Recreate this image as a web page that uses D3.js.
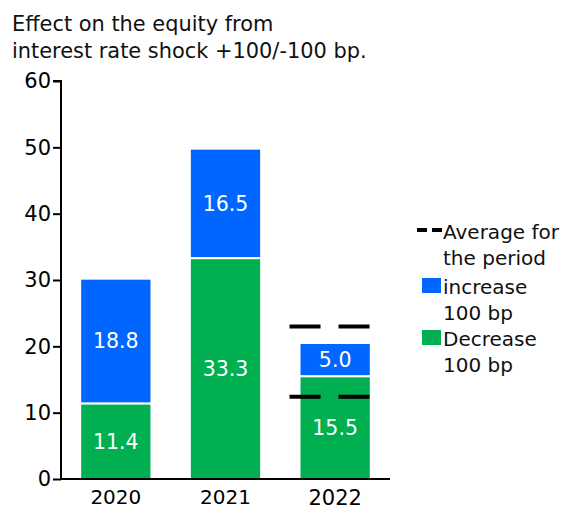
<!DOCTYPE html>
<html><head><meta charset="utf-8">
<script src="https://cdn.jsdelivr.net/npm/d3@7"></script>
<style>body{margin:0;background:#fff;} text{font-family:"DejaVu Sans",Verdana,sans-serif;}</style>
</head><body>
<svg id="c" width="566" height="509"></svg>
<script>
const years = ["2020","2021","2022"];
const decrease = [11.4, 33.3, 15.5];
const increase = [18.8, 16.5, 5.0];
const averages = [23.0, 12.4];
const avgYear = "2022";
const yTicks = [0,10,20,30,40,50,60];
const titleLines = ["Effect on the equity from","interest rate shock +100/-100 bp."];
const legendItems = [
  {type:"dash", lines:["Average for","the period"]},
  {type:"box", color:"#0066FF", lines:["increase","100 bp"]},
  {type:"box", color:"#00B050", lines:["Decrease","100 bp"]}
];
const BLUE="#0066FF", GREEN="#00B050";

const svg = d3.select("#c");
const y = d3.scaleLinear().domain([0,60]).range([479,81]);
const x = d3.scaleBand().domain(years).range([61,390]).paddingInner(0.35).paddingOuter(0.175);

// title
svg.append("text").attr("x",12).attr("y",31).attr("font-size",20.9).attr("fill","#111")
  .selectAll("tspan").data(titleLines).join("tspan").attr("x",12).attr("dy",(d,i)=>i?27:0).text(d=>d);

// bars
const g = svg.append("g");
years.forEach((yr,i)=>{
  const segs = [
    {v0:0, v1:decrease[i], c:GREEN, v:decrease[i]},
    {v0:decrease[i], v1:decrease[i]+increase[i], c:BLUE, v:increase[i]}
  ];
  segs.forEach(s=>{
    g.append("rect").attr("x",x(yr)).attr("width",x.bandwidth())
      .attr("y",y(s.v1)).attr("height",y(s.v0)-y(s.v1))
      .attr("fill",s.c).attr("stroke","#fff").attr("stroke-width",2);
    g.append("text").attr("x",x(yr)+x.bandwidth()/2).attr("y",(y(s.v0)+y(s.v1))/2)
      .attr("dy","0.36em").attr("text-anchor","middle").attr("fill","#fff")
      .attr("font-size",20.5).text(s.v.toFixed(1));
  });
});

// average dashes
averages.forEach(a=>{
  svg.append("line").attr("x1",x(avgYear)-10).attr("x2",x(avgYear)+x.bandwidth())
    .attr("y1",y(a)).attr("y2",y(a)).attr("stroke","#000").attr("stroke-width",4)
    .attr("stroke-dasharray","31,18");
});

// axes
const ya = svg.append("g").attr("transform","translate(61,0)")
  .call(d3.axisLeft(y).tickValues(yTicks).tickSize(8).tickPadding(2).tickFormat(d3.format("d")));
ya.select(".domain").attr("stroke","#000").attr("stroke-width",2).attr("d","M-8,"+y(60)+"H0V"+y(0));
ya.selectAll(".tick line").attr("stroke","#000").attr("stroke-width",2);
ya.selectAll(".tick text").attr("font-size",21).attr("fill","#000").attr("font-family","DejaVu Sans, Verdana, sans-serif");

const xa = svg.append("g").attr("transform","translate(0,479)")
  .call(d3.axisBottom(x).tickSize(0).tickPadding(11));
xa.select(".domain").attr("stroke","#000").attr("stroke-width",2).attr("d","M61,0H390");
xa.selectAll(".tick text").attr("font-size",d=>d==="2022"?21:20).attr("fill","#000")
  .attr("font-family","DejaVu Sans, Verdana, sans-serif");

// legend
const lg = svg.append("g");
const rowTops = [230, 285, 337];
legendItems.forEach((it,i)=>{
  const cy = rowTops[i];
  if(it.type==="dash"){
    lg.append("line").attr("x1",417).attr("x2",442).attr("y1",cy).attr("y2",cy)
      .attr("stroke","#000").attr("stroke-width",4).attr("stroke-dasharray","10,5");
  } else {
    lg.append("rect").attr("x",422).attr("y",cy-7).attr("width",19).attr("height",15).attr("fill",it.color);
  }
  lg.append("text").attr("x",443).attr("y",cy+9).attr("font-size",20).attr("fill","#111")
    .selectAll("tspan").data(it.lines).join("tspan").attr("x",443).attr("dy",(d,j)=>j?25.5:0).text(d=>d);
});
</script>
</body></html>
